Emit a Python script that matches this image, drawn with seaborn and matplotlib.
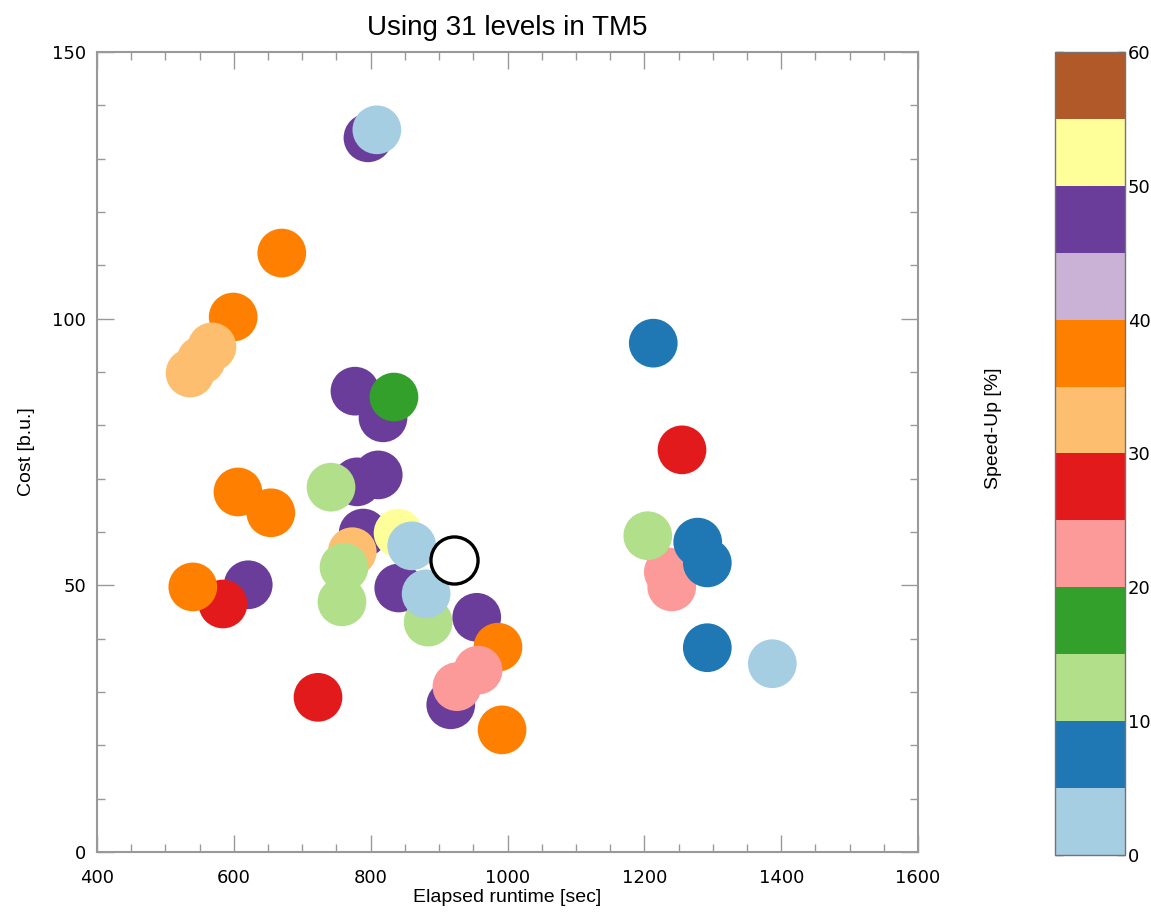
import matplotlib
matplotlib.use("Agg")
import matplotlib.pyplot as plt
import matplotlib.colors as mcolors
from matplotlib.ticker import MultipleLocator
import pandas as pd
import seaborn as sns

# Runs drawn in plotting order (later points sit on top)
runtime = [796, 809, 670, 599, 536, 552, 568, 818, 777, 834,
           780, 811, 742, 606, 654, 789, 773, 758, 761, 840,
           841, 884, 860, 881, 955, 986, 917, 926, 957, 992,
           723, 621, 584, 540,
           1213, 1255, 1240, 1235, 1205, 1278, 1292, 1292, 1387]
cost = [133.9, 135.4, 112.3, 100.3, 89.8, 92.2, 94.7, 81.4, 86.4, 85.3,
        69.4, 70.7, 68.4, 67.5, 63.6, 59.8, 56.3, 46.9, 53.4, 59.8,
        49.5, 43.1, 57.4, 48.4, 44.0, 38.4, 27.6, 31.0, 34.1, 22.9,
        29.0, 50.1, 46.5, 49.7,
        95.4, 75.4, 49.7, 52.5, 59.3, 58.1, 54.2, 38.3, 35.3]
speedup = [47.5, 2.5, 37.5, 37.5, 32.5, 32.5, 32.5, 47.5, 47.5, 17.5,
           47.5, 47.5, 12.5, 37.5, 37.5, 47.5, 32.5, 12.5, 12.5, 52.5,
           47.5, 12.5, 2.5, 2.5, 47.5, 37.5, 47.5, 22.5, 22.5, 37.5,
           27.5, 47.5, 27.5, 37.5,
           7.5, 27.5, 22.5, 22.5, 12.5, 7.5, 7.5, 7.5, 2.5]

# reference run (open circle)
ref_runtime = [922]
ref_cost = [54.8]

df = pd.DataFrame({"runtime": runtime, "cost": cost, "speedup": speedup})

sns.set_style("white")
plt.rcParams.update({
    "font.family": ["Liberation Sans", "DejaVu Sans"],
    "text.color": "black",
    "axes.labelcolor": "black",
    "xtick.labelcolor": "black",
    "ytick.labelcolor": "black",
})

cmap = mcolors.ListedColormap(sns.color_palette("Paired", 12))
norm = mcolors.Normalize(vmin=0, vmax=60)

fig = plt.figure(figsize=(11.51, 9.18), dpi=100)
ax = fig.add_axes([0.0843, 0.0719, 0.7133, 0.8715])
cax = fig.add_axes([0.9166, 0.0686, 0.0608, 0.8748])

sns.scatterplot(
    data=df, x="runtime", y="cost", hue="speedup",
    palette=cmap, hue_norm=norm, s=1230, linewidth=0,
    legend=False, ax=ax,
)
sns.scatterplot(
    x=ref_runtime, y=ref_cost, s=1150, color="white",
    edgecolor="black", linewidth=2.4, ax=ax, legend=False,
)

ax.set_xlim(400, 1600)
ax.set_ylim(0, 150)
ax.xaxis.set_major_locator(MultipleLocator(200))
ax.xaxis.set_minor_locator(MultipleLocator(50))
ax.yaxis.set_major_locator(MultipleLocator(50))
ax.yaxis.set_minor_locator(MultipleLocator(10))

for sp in ax.spines.values():
    sp.set_visible(True)
    sp.set_color("0.6")
    sp.set_linewidth(1.5)

ax.tick_params(which="both", direction="in", top=True, right=True,
               bottom=True, left=True, color="0.6", width=1)
ax.tick_params(which="major", length=12)
ax.tick_params(which="minor", length=6)
ax.tick_params(axis="x", which="major", pad=12)
ax.tick_params(axis="y", which="major", pad=8)
for lab in ax.get_xticklabels() + ax.get_yticklabels():
    lab.set_fontfamily("DejaVu Sans")
    lab.set_fontsize(13)

ax.set_xlabel("Elapsed runtime [sec]", fontsize=14, labelpad=2)
ax.set_ylabel("Cost [b.u.]", fontsize=14, labelpad=12)
ax.set_title("Using 31 levels in TM5", fontsize=20, pad=12)

sm = plt.cm.ScalarMappable(norm=norm, cmap=cmap)
cb = fig.colorbar(sm, cax=cax, ticks=range(0, 61, 10))
cb.outline.set_edgecolor("0.45")
cb.outline.set_linewidth(1)
cax.tick_params(direction="in", left=True, right=True, length=6,
                color="0.35", width=1, pad=2)
for lab in cax.get_yticklabels():
    lab.set_fontfamily("DejaVu Sans")
    lab.set_fontsize(13)

fig.text(0.863, 0.534, "Speed-Up [%]", rotation=90, fontsize=14,
         ha="center", va="center")

fig.savefig("out.png", dpi=100)
plt.close(fig)
